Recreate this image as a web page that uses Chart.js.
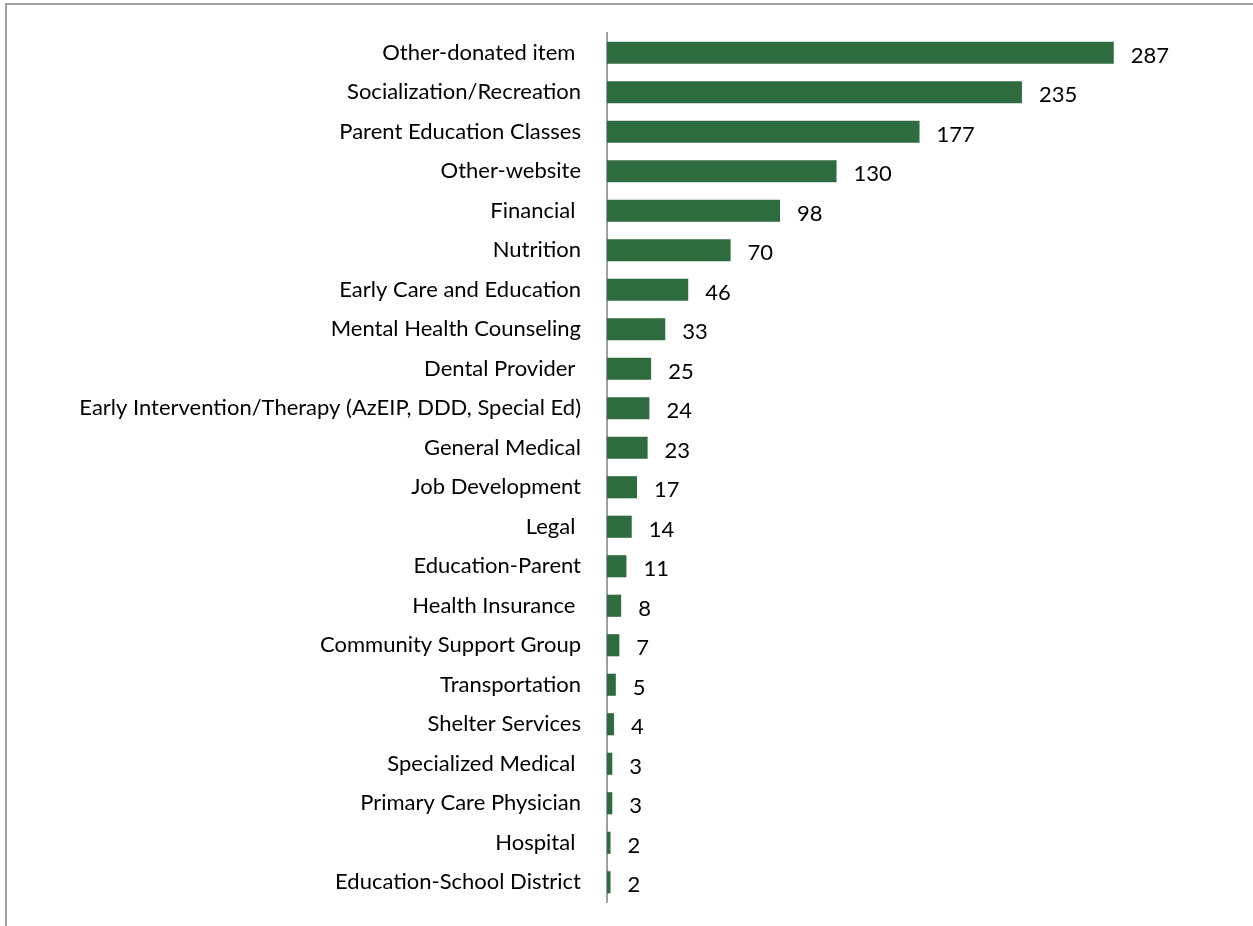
<!DOCTYPE html>
<html>
<head>
<meta charset="utf-8">
<script src="https://cdn.jsdelivr.net/npm/chart.js@4.4.1/dist/chart.umd.min.js"></script>
<style>
  html, body { margin: 0; padding: 0; background: #ffffff; }
  #wrap { position: relative; width: 1253px; height: 926px; overflow: hidden; }
  #frame {
    position: absolute; left: 5px; top: 3px; width: 1300px; height: 1000px;
    border-top: 2px solid #a0a0a0; border-left: 2px solid #a0a0a0;
  }
  canvas { position: absolute; left: 0; top: 0; }
</style>
</head>
<body>
<div id="wrap">
  <div id="frame"></div>
  <canvas id="chart" width="1253" height="926"></canvas>
</div>
<script>
// Service categories, ordered from most to fewest referrals
const categories = [
  "Other-donated item ",
  "Socialization/Recreation",
  "Parent Education Classes",
  "Other-website",
  "Financial ",
  "Nutrition",
  "Early Care and Education",
  "Mental Health Counseling",
  "Dental Provider ",
  "Early Intervention/Therapy (AzEIP, DDD, Special Ed)",
  "General Medical",
  "Job Development",
  "Legal ",
  "Education-Parent",
  "Health Insurance ",
  "Community Support Group",
  "Transportation",
  "Shelter Services",
  "Specialized Medical ",
  "Primary Care Physician",
  "Hospital ",
  "Education-School District"
];

// Number of referrals per category
const referrals = [287, 235, 177, 130, 98, 70, 46, 33, 25, 24, 23, 17, 14, 11, 8, 7, 5, 4, 3, 3, 2, 2];

const FONT = "Lato, 'Open Sans', sans-serif";
const FONT_SIZE = 22;

// Writes each bar's value just past its end
const valueLabels = {
  id: 'valueLabels',
  afterDatasetsDraw(chart) {
    const { ctx } = chart;
    const meta = chart.getDatasetMeta(0);
    ctx.save();
    ctx.font = FONT_SIZE + "px " + FONT;
    ctx.fillStyle = '#000000';
    ctx.textAlign = 'left';
    ctx.textBaseline = 'middle';
    meta.data.forEach((bar, i) => {
      ctx.fillText(String(chart.data.datasets[0].data[i]), bar.x + 17, bar.y + 3);
    });
    ctx.restore();
  }
};

new Chart(document.getElementById('chart'), {
  type: 'bar',
  data: {
    labels: categories,
    datasets: [{
      data: referrals,
      backgroundColor: '#2e6b3e',
      borderWidth: 0,
      barPercentage: 0.56,
      categoryPercentage: 1.0
    }]
  },
  options: {
    indexAxis: 'y',
    responsive: false,
    animation: false,
    devicePixelRatio: 1,
    layout: { padding: { left: 0, right: 28, top: 33, bottom: 24 } },
    plugins: {
      legend: { display: false },
      tooltip: { enabled: false },
      title: { display: false }
    },
    scales: {
      x: {
        display: false,
        min: 0,
        max: 350
      },
      y: {
        afterFit(scale) { scale.width = 607; },
        // invisible tick marks keep the labels 26px clear of the axis line
        grid: {
          display: true,
          drawOnChartArea: false,
          drawTicks: true,
          tickLength: 26,
          tickColor: 'rgba(0,0,0,0)'
        },
        border: { display: true, color: '#a0a0a0', width: 2 },
        ticks: {
          color: '#000000',
          padding: 0,
          autoSkip: false,
          font: { family: FONT, size: FONT_SIZE }
        }
      }
    }
  },
  plugins: [valueLabels]
});
</script>
</body>
</html>
